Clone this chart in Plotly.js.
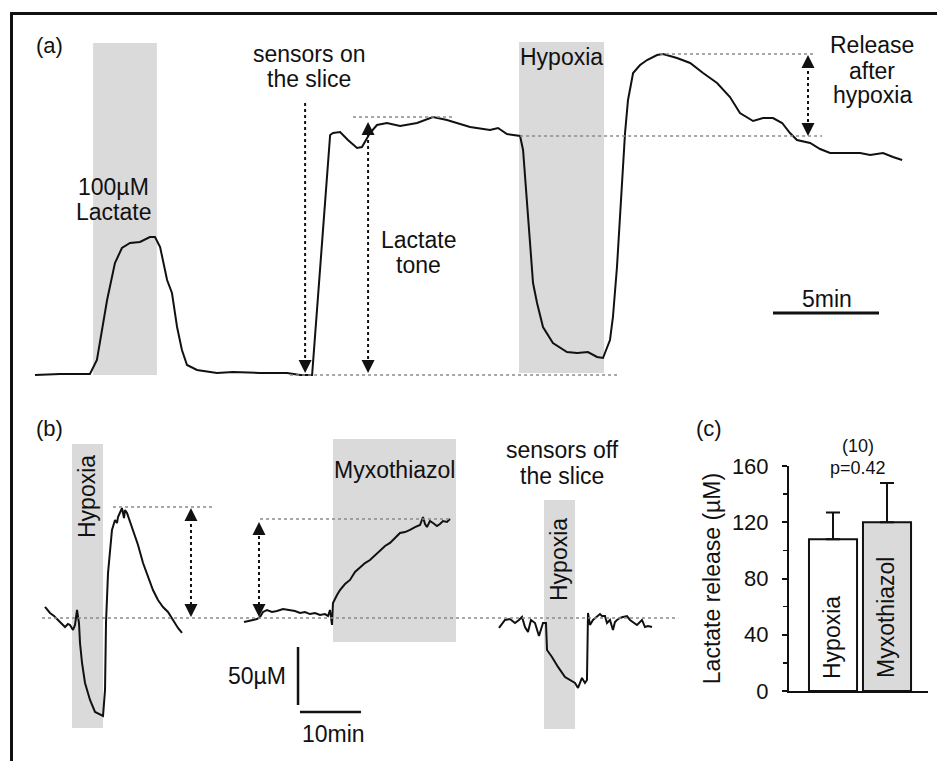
<!DOCTYPE html>
<html><head><meta charset="utf-8">
<script src="https://cdn.plot.ly/plotly-3.0.1.min.js"></script>
<style>html,body{margin:0;padding:0;background:#fff}</style>
</head><body><div id="chart" style="width:939px;height:761px"></div>
<script>
// ---------- Panel (a): lactate trace, time in min, signal in a.u. ----------
const timeA = [0,1.18,2.59,2.92,3.40,3.77,4.10,4.48,4.95,5.42,5.66,5.90,6.23,6.46,6.70,6.93,7.17,7.64,8.58,9.34,10.61,11.89,12.50,13.07,
  13.92,14.06,14.39,14.76,15.19,15.42,15.80,16.13,16.60,17.22,18.02,18.77,19.43,20.52,21.46,21.84,22.26,22.74,22.88,
  23.02,23.25,23.49,23.68,23.96,24.43,25.09,25.57,26.08,26.51,26.79,27.12,27.26,27.45,27.69,27.83,27.97,28.21,28.54,28.87,
  29.34,29.62,30.28,30.90,31.51,32.17,32.78,33.25,33.87,34.34,34.81,35.24,35.61,35.94,36.56,37.03,37.50,37.97,38.44,38.92,39.39,40.00,40.47,40.90];
const lacA = [0,0.5,0.5,7.5,37.5,56,63.5,66,66.5,69,69,64,47.5,41,24,12.5,5,2.5,1,1.5,1,1,0,0,
  120,121,121.5,117.5,113.5,114,121,125,126,124.5,126,129,127.5,124,122.5,123.5,120.5,120,119.5,
  112.5,79,46,36,24,16,11.5,11,11.5,9,8.5,17.5,29,54,96,121,137.5,151,155,157.5,
  160,160.5,158.5,156,151,146,139,131,127,128.5,128.5,126,121,117.5,116,113,111,111,111,111,110,111,109,107.5];
const lactateApplication = [2.74, 5.75];   // min
const hypoxiaA = [22.83, 26.84];          // min
const baselineA = 0, toneLevelA = 129, preHypoxiaA = 119.5, peakA = 160.5;
const scaleBarA = 5; // min

// ---------- Panel (b): time in min, lactate in µM ----------
const timeB1 = [0,0.82,1.48,2.13,2.79,3.28,3.77,4.10,4.59,4.92,5.25,5.57,5.74,6.07,6.56,7.38,8.20,9.02,9.51,9.84,10.0,10.33,10.98,11.48,11.8,11.97,12.3,12.62,12.95,13.11,13.44,14.43,15.25,16.07,16.89,17.70,18.52,19.34,20.16,20.98,21.8,22.46];
const lacB1 = [9.5,4.3,1.7,-1.7,-5.2,-7.8,-5.2,-6,-10.3,-6,6.9,-4.3,-21.6,-38.8,-56,-70.7,-81,-83.6,-84.5,-62,-4.3,38.8,75.9,84.5,81.9,87.1,91.4,94.8,86.2,93.1,90.5,75.9,62.9,47.4,35.3,24.1,15.5,9.5,5.2,-1.7,-8.6,-12.9];
const timeB2 = [32.62,33.61,34.10,34.75,35.25,35.74,36.39,37.21,38.03,39.02,40.16,40.98,41.80,42.62,43.44,44.26,45.08,45.9,46.39,46.72,47.05,47.21,47.87,48.36,49.18,50.0,50.82,51.64,52.46,53.28,54.1,54.92,55.74,56.56,57.38,58.2,59.02,59.84,60.66,61.48,61.97,62.3,62.62,63.11,63.61,64.26,64.75,65.25,65.9,66.39];
const lacB2 = [-3.4,-2.6,-1.7,-0.9,0.9,5.2,6.9,5.2,6,7.8,6.9,6,4.3,5.2,3.4,4.3,2.6,3.4,1.7,6.9,-6,12.9,19.8,24.1,29.3,32.8,39.7,44,47.4,50,54.3,58.6,62.1,64.7,69,73.3,74.1,75.9,78.4,80.2,87.1,81,78.4,83.6,81.9,79.3,81,83.6,82.8,85.3];
const timeB3 = [74.43,75.41,76.23,77.05,77.7,78.2,78.69,79.18,79.67,80.33,80.98,81.64,82.13,82.30,83.11,84.10,85.25,86.07,86.89,87.38,88.03,88.52,88.85,89.02,89.34,89.84,90.49,90.98,91.31,91.8,92.13,92.62,93.11,93.44,93.77,94.26,94.75,95.41,95.9,96.39,97.05,97.87,98.36,98.85,99.51];
const lacB3 = [-8.6,-1.7,-0.9,-4.3,-1.7,0.9,-7.8,-12.1,-1.7,-4.3,-15.5,-4.3,-4.3,-27.6,-33.6,-42.2,-50.9,-53.4,-56,-60.3,-51.7,-56,-53.4,4.3,-6,-1.7,0.9,3.4,1.7,1.7,-4.3,-1.7,-10.3,-3.4,-1.7,0,0.9,1.7,-1.7,-3.4,-6,-1.7,-7.8,-6.9,-7.8];
const hypoxiaB1 = [4.43, 9.51], myxoB2 = [47.21, 67.38], hypoxiaB3 = [81.8, 86.89];
const peakB1 = 95.7, plateauB2 = 85.3;
const scaleBarB = {min: 10, uM: 50};

// ---------- Panel (c): bar chart ----------
const barCategories = ['Hypoxia', 'Myxothiazol'];
const barValues = [108, 120];
const barErrors = [19, 28];
const yTicksC = [0, 40, 80, 120, 160];
const yMinorC = [20, 60, 100, 140];

// ---------- helpers ----------
const W = 939, H = 761;
const fx = p => p / W, fy = p => 1 - p / H;
const INK = '#111', GREY = '#dadada', FONT = 'Liberation Sans, Arial, Helvetica, sans-serif';

const traces = [
  {x: timeA, y: lacA, xaxis: 'x', yaxis: 'y', mode: 'lines', line: {color: INK, width: 2}, hoverinfo: 'skip'},
  {x: timeB1, y: lacB1, xaxis: 'x2', yaxis: 'y2', mode: 'lines', line: {color: INK, width: 2}, hoverinfo: 'skip'},
  {x: timeB2, y: lacB2, xaxis: 'x2', yaxis: 'y2', mode: 'lines', line: {color: INK, width: 2}, hoverinfo: 'skip'},
  {x: timeB3, y: lacB3, xaxis: 'x2', yaxis: 'y2', mode: 'lines', line: {color: INK, width: 2}, hoverinfo: 'skip'},
  {type: 'bar', x: barCategories, y: barValues, xaxis: 'x3', yaxis: 'y3', width: 0.89,
   marker: {color: ['#ffffff', GREY], line: {color: INK, width: 2}},
   error_y: {type: 'data', symmetric: false, array: barErrors, arrayminus: [0, 0], color: INK, thickness: 2, width: 7},
   hoverinfo: 'skip'}
];

const rect = (xa, ya, x0, x1, y0, y1) => ({type: 'rect', xref: xa, yref: ya, x0, x1, y0, y1, fillcolor: GREY, line: {width: 0}, layer: 'below'});
const hline = (xa, ya, x0, x1, y, color, w, dash) => ({type: 'line', xref: xa, yref: ya, x0, x1, y0: y, y1: y, line: {color, width: w, dash}});
const vline = (xa, ya, x, y0, y1, color, w, dash) => ({type: 'line', xref: xa, yref: ya, x0: x, x1: x, y0, y1, line: {color, width: w, dash}});
const DOT = '#8a8a8a';

const shapes = [
  // figure frame
  {type: 'line', xref: 'paper', yref: 'paper', x0: fx(10), x1: fx(937), y0: fy(13.5), y1: fy(13.5), line: {color: INK, width: 3}},
  {type: 'line', xref: 'paper', yref: 'paper', x0: fx(11.5), x1: fx(11.5), y0: fy(12), y1: 0, line: {color: INK, width: 3}},
  // panel a
  rect('x', 'y', lactateApplication[0], lactateApplication[1], 0, 166),
  rect('x', 'y', hypoxiaA[0], hypoxiaA[1], 1, 166.5),
  hline('x', 'y', 12.03, 27.45, baselineA, DOT, 1.5, 'dot'),
  hline('x', 'y', 15.0, 19.81, toneLevelA, DOT, 1.5, 'dot'),
  hline('x', 'y', 22.88, 37.12, preHypoxiaA, DOT, 1.5, 'dot'),
  hline('x', 'y', 29.48, 36.79, peakA, DOT, 1.5, 'dot'),
  vline('x', 'y', 12.74, 136, 5, INK, 2, 'dot'),
  vline('x', 'y', 15.71, 5, 122, INK, 2, 'dot'),
  vline('x', 'y', 36.46, 123.5, 156, INK, 2, 'dot'),
  hline('x', 'y', 34.81, 34.81 + scaleBarA, 31, INK, 3, 'solid'),
  // panel b
  rect('x2', 'y2', hypoxiaB1[0], hypoxiaB1[1], -94.8, 150),
  rect('x2', 'y2', myxoB2[0], myxoB2[1], -20.7, 154.3),
  rect('x2', 'y2', hypoxiaB3[0], hypoxiaB3[1], -95.7, 101.7),
  hline('x2', 'y2', -0.49, 103.8, 0, DOT, 1.5, 'dot'),
  hline('x2', 'y2', 11.15, 27.38, peakB1, DOT, 1.5, 'dot'),
  hline('x2', 'y2', 35.25, 66.72, plateauB2, DOT, 1.5, 'dot'),
  vline('x2', 'y2', 23.93, 6, 89, INK, 2, 'dot'),
  vline('x2', 'y2', 35.08, 6, 77, INK, 2, 'dot'),
  vline('x2', 'y2', 41.48, -75, -75 + scaleBarB.uM, INK, 2.5, 'solid'),
  hline('x2', 'y2', 41.8, 41.8 + scaleBarB.min, -81, INK, 2.5, 'solid')
];

const txt = (text, px, py, size, extra) => Object.assign({text, x: fx(px), y: fy(py), xref: 'paper', yref: 'paper',
  showarrow: false, xanchor: 'center', yanchor: 'middle', font: {family: FONT, size: size || 23, color: INK}}, extra || {});
const head = (xa, ya, x, y, dir) => ({xref: xa, yref: ya, x, y, text: '', showarrow: true, arrowhead: 2, arrowsize: 1.3,
  arrowwidth: 2, arrowcolor: INK, ax: 0, ay: dir === 'up' ? 9 : -9});

const annotations = [
  txt('(a)', 49, 46, 22), txt('(b)', 49, 428, 22), txt('(c)', 709, 428, 22),
  txt('sensors on', 309, 54), txt('the slice', 309, 79),
  txt('100µM', 113, 187), txt('Lactate', 113, 212),
  txt('Lactate', 418, 240), txt('tone', 418, 265),
  txt('Hypoxia', 561, 57),
  txt('Release', 872, 45), txt('after', 872, 71), txt('hypoxia', 872, 95),
  txt('5min', 827, 299),
  txt('Hypoxia', 87, 497, 23, {textangle: -90}),
  txt('Myxothiazol', 394, 470),
  txt('50µM', 257, 676), txt('10min', 333, 734),
  txt('sensors off', 562, 450), txt('the slice', 562, 476),
  txt('Hypoxia', 559, 560, 23, {textangle: -90}),
  txt('(10)', 858, 446, 18), txt('p=0.42', 858, 468, 18),
  // category labels written inside the bars
  txt(barCategories[0], 832, 638, 23, {textangle: -90}),
  txt(barCategories[1], 886, 618, 23, {textangle: -90}),
  head('x', 'y', 12.74, 1, 'down'),
  head('x', 'y', 15.71, 1, 'down'), head('x', 'y', 15.71, 126.5, 'up'),
  head('x', 'y', 36.46, 119.5, 'down'), head('x', 'y', 36.46, 160, 'up'),
  head('x2', 'y2', 23.93, 0.9, 'down'), head('x2', 'y2', 23.93, 94.8, 'up'),
  head('x2', 'y2', 35.08, 0.9, 'down'), head('x2', 'y2', 35.08, 82.8, 'up')
];

const hidden = {visible: false, fixedrange: true, showgrid: false, zeroline: false};
const layout = {
  width: W, height: H, margin: {l: 0, r: 0, t: 0, b: 0}, showlegend: false,
  paper_bgcolor: '#fff', plot_bgcolor: 'rgba(0,0,0,0)', font: {family: FONT, color: INK},
  xaxis: Object.assign({domain: [fx(20), fx(935)], range: [-0.708, 42.45], anchor: 'y'}, hidden),
  yaxis: Object.assign({domain: [fy(390), fy(30)], range: [-7.5, 172.5], anchor: 'x'}, hidden),
  xaxis2: Object.assign({domain: [fx(30), fx(690)], range: [-2.46, 105.74], anchor: 'y2'}, hidden),
  yaxis2: Object.assign({domain: [fy(745), fy(425)], range: [-109.5, 166.4], anchor: 'x2'}, hidden),
  xaxis3: {domain: [fx(789), fx(928)], range: [-0.815, 1.759], anchor: 'y3', type: 'category',
    showline: true, linecolor: INK, linewidth: 2, showticklabels: false, ticks: '', showgrid: false, zeroline: false, fixedrange: true},
  yaxis3: {domain: [fy(691), fy(466)], range: [0, 160], anchor: 'x3', showline: true, linecolor: INK, linewidth: 2,
    ticks: 'outside', ticklen: 5, tickwidth: 2, tickcolor: INK, tickvals: yTicksC, ticktext: yTicksC.map(String),
    minor: {tickvals: yMinorC, ticks: 'outside', ticklen: 4, tickwidth: 1.5, tickcolor: INK},
    tickfont: {family: FONT, size: 22, color: INK}, ticklabelstandoff: 9,
    showgrid: false, zeroline: false, fixedrange: true,
    title: {text: 'Lactate release (µM)', font: {family: FONT, size: 23, color: INK}, standoff: 5}},
  shapes, annotations
};

Plotly.newPlot('chart', traces, layout, {staticPlot: true, displayModeBar: false});
</script>
</body></html>
